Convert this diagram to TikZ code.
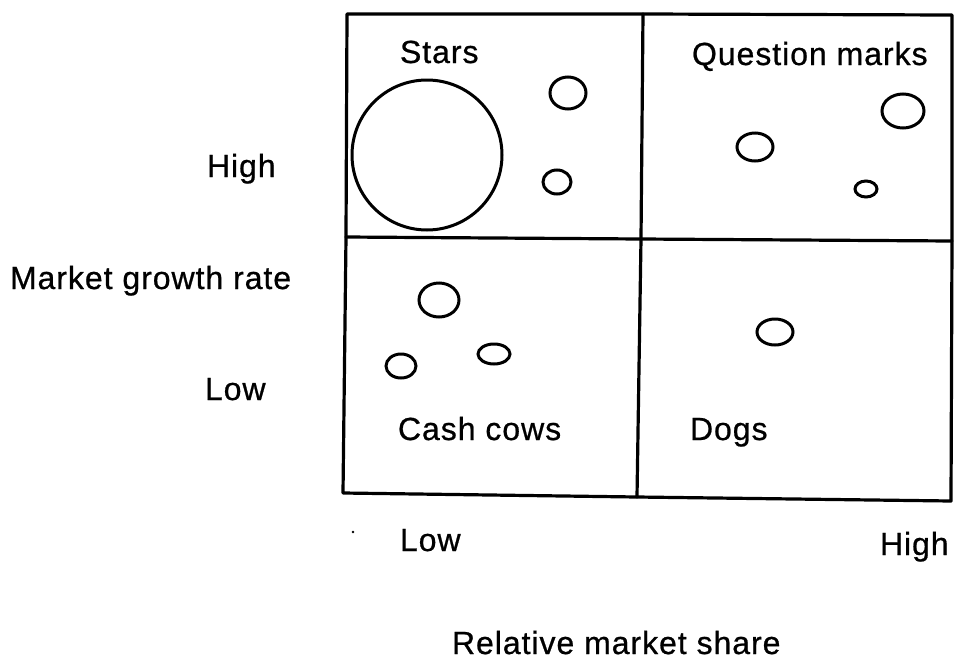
\documentclass[tikz,border=0pt]{standalone}
\usepackage{fontspec}
\setmainfont{Liberation Sans}
\newfontfamily\lblfont{Liberation Sans}[LetterSpace=3, FakeBold=0.7]
\begin{document}
\begin{tikzpicture}[x=1pt,y=-1pt,
  grid/.style={line width=3.2pt, line cap=round, line join=round},
  blob/.style={line width=3pt},
  lbl/.style={font=\lblfont\fontsize{32}{36}\selectfont, anchor=base west, inner sep=0pt, outer sep=0pt}]
\useasboundingbox (0,0) rectangle (954,670);
% grid corners
\coordinate (tl) at (347,14);
\coordinate (tm) at (643,14);
\coordinate (tr) at (952,15);
\coordinate (ml) at (346,237);
\coordinate (cc) at (641,239);
\coordinate (mr) at (952,241);
\coordinate (bl) at (343,493);
\coordinate (bm) at (637,497);
\coordinate (br) at (951,501);
\draw[grid] (tl) -- (tm) -- (tr) -- (mr) -- (br) -- (bm) -- (bl) -- (ml) -- cycle;
\draw[grid] (tm) -- (cc) -- (bm);
\draw[grid] (ml) -- (cc) -- (mr);
% Stars
\draw[blob] (427,155) circle (75);
\draw[blob] (568,93) ellipse (18 and 16);
\draw[blob] (557,182) ellipse (14 and 12);
% Question marks
\draw[blob] (755,147) ellipse (18 and 14);
\draw[blob] (903,111) ellipse (21 and 17);
\draw[blob] (866,189) ellipse (11 and 8);
% Cash cows
\draw[blob] (439,300) ellipse (20 and 17);
\draw[blob] (401,366) ellipse (15 and 12);
\draw[blob] (494,354) ellipse (16 and 10);
% Dogs
\draw[blob] (775,332) ellipse (18 and 13);
% quadrant labels
\node[lbl] (stars) at (400,63) {Stars};
\node[lbl] (qm) at (692,65) {Question marks};
\node[lbl] (cows) at (398,440) {Cash cows};
\node[lbl] (dogs) at (690,440) {Dogs};
% axis labels
\node[lbl] (yhigh) at (207,177) {High};
\node[lbl] (ytitle) at (10,289) {Market growth rate};
\node[lbl] (ylow) at (205,400) {Low};
\node[lbl] (xlow) at (400,551) {Low};
\node[lbl] (xhigh) at (880,555) {High};
\node[lbl] (xtitle) at (452,654) {Relative market share};
\fill (353,532) circle (1.3);
\end{tikzpicture}
\end{document}
